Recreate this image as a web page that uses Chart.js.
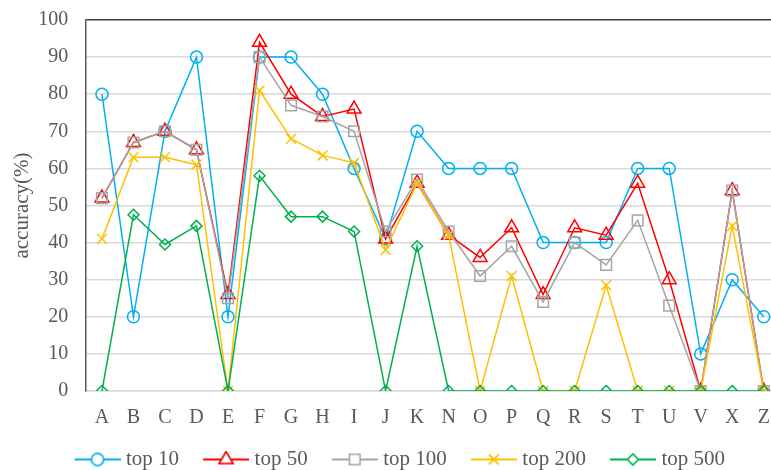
<!DOCTYPE html>
<html>
<head>
<meta charset="utf-8">
<script src="https://cdn.jsdelivr.net/npm/chart.js@4"></script>
<style>
  html, body { margin: 0; padding: 0; background: #fff; overflow: hidden; }
  #wrap { width: 789px; height: 470px; }
</style>
</head>
<body>
<div id="wrap"><canvas id="chart"></canvas></div>
<script>
// categories and series
const categories = ['A','B','C','D','E','F','G','H','I','J','K','N','O','P','Q','R','S','T','U','V','X','Z'];
const top10  = [80, 20, 70, 90, 20, 90, 90, 80, 60, 41, 70, 60, 60, 60, 40, 40, 40, 60, 60, 10, 30, 20];
const top50  = [52, 67, 70, 65, 26, 94, 80, 74, 76, 41, 56, 42, 36, 44, 26, 44, 42, 56, 30, 0, 54, 0];
const top100 = [52, 67, 70, 65, 25, 90, 77, 74, 70, 43, 57, 43, 31, 39, 24, 40, 34, 46, 23, 0, 54, 0];
const top200 = [41, 63, 63, 61, 0, 81, 68, 63.5, 61.5, 38, 56, 42, 0, 31, 0, 0, 28.5, 0, 0, 0, 44.5, 0];
const top500 = [0, 47.5, 39.5, 44.5, 0, 58, 47, 47, 43, 0, 39, 0, 0, 0, 0, 0, 0, 0, 0, 0, 0, 0];
const seriesNames = ['top 10', 'top 50', 'top 100', 'top 200', 'top 500'];

const colors = ['#00B0F0', '#FF0000', '#A5A5A5', '#FFC000', '#00B050'];
const styles = ['circle', 'triangle', 'rect', 'crossRot', 'rectRot'];
const radii = [6, 8, 7.5, 7, 5.5];
const FONT = "'Liberation Serif', 'Times New Roman', serif";
const TEXT = '#595959';

// legend swatch: blank lead-in, then a 46px line with the marker in the middle.
// it is 10px wider than pointStyleWidth so the line runs closer to the text
const SW_BOX = 61;
function swatch(color, style, r) {
  const c = document.createElement('canvas');
  c.width = SW_BOX + 10; c.height = 18;
  const ctx = c.getContext('2d');
  const x0 = c.width - 46;
  ctx.strokeStyle = color;
  ctx.lineWidth = 2;
  ctx.beginPath();
  ctx.moveTo(x0, 9); ctx.lineTo(c.width, 9);
  ctx.stroke();
  ctx.fillStyle = '#fff';
  ctx.lineWidth = 1.5;
  Chart.helpers.drawPoint(ctx, {pointStyle: style, radius: r, rotation: 0, borderWidth: 1.5}, x0 + 23, 9);
  ctx.fill();
  ctx.stroke();
  return c;
}

const allData = [top10, top50, top100, top200, top500];
const datasets = allData.map((d, i) => ({
  label: seriesNames[i],
  data: d,
  borderColor: colors[i],
  backgroundColor: 'rgba(0,0,0,0)',
  borderWidth: 1.5,
  pointStyle: styles[i],
  pointRadius: radii[i],
  pointHoverRadius: radii[i],
  pointBorderWidth: 1.5,
  pointBorderColor: colors[i],
  pointBackgroundColor: 'rgba(0,0,0,0)',
  tension: 0,
  order: 5 - i
}));

const legendIcons = colors.map((c, i) => swatch(c, styles[i], radii[i]));

new Chart(document.getElementById('chart'), {
  type: 'line',
  data: { labels: categories, datasets: datasets },
  options: {
    responsive: true,
    maintainAspectRatio: false,
    animation: false,
    layout: { padding: { left: 0, right: 9.5, top: 20, bottom: -10 } },
    plugins: {
      tooltip: { enabled: false },
      legend: {
        position: 'bottom',
        labels: {
          usePointStyle: true,
          pointStyleWidth: SW_BOX,
          boxHeight: 18,
          padding: 4,
          color: TEXT,
          font: { family: FONT, size: 21 },
          generateLabels: chart => chart.data.datasets.map((ds, i) => ({
            text: ds.label,
            pointStyle: legendIcons[i],
            fillStyle: colors[i],
            strokeStyle: colors[i],
            lineWidth: 0,
            fontColor: TEXT,
            datasetIndex: i,
            hidden: false
          }))
        }
      }
    },
    scales: {
      x: {
        offset: true,
        grid: { display: false, drawTicks: false },
        border: { color: '#D9D9D9', width: 1.5 },
        ticks: { color: TEXT, font: { family: FONT, size: 20 }, padding: 15, maxRotation: 0, autoSkip: false }
      },
      y: {
        min: 0,
        max: 100,
        ticks: {
          stepSize: 10,
          color: TEXT,
          font: { family: FONT, size: 20 },
          padding: 3,
          // trailing spaces keep the numbers clear of the axis line
          callback: v => v + '   '
        },
        grid: {
          drawTicks: false,
          color: ctx => ctx.tick && ctx.tick.value === 100 ? '#404040' : '#D9D9D9',
          lineWidth: 1.5
        },
        border: { color: '#595959', width: 1.5 },
        title: { display: true, text: 'accuracy(%)', color: TEXT, font: { family: FONT, size: 21 }, padding: { top: 10, bottom: 0 } }
      }
    }
  }
});
</script>
</body>
</html>
